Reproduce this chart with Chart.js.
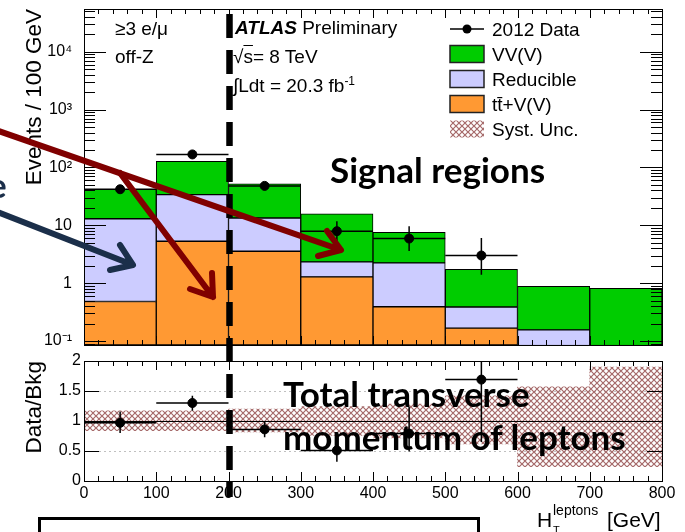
<!DOCTYPE html>
<html>
<head>
<meta charset="utf-8">
<script src="https://cdn.jsdelivr.net/npm/chart.js@4"></script>
<style>
  html, body { margin: 0; padding: 0; background: #fff; }
  body { width: 685px; height: 532px; position: relative; overflow: hidden; font-family: "Liberation Sans", Arial, sans-serif; }
  canvas { position: absolute; left: 0; }
  #eventsChart { top: 0; }
  #ratioChart { top: 350px; }
  .t { position: absolute; white-space: nowrap; line-height: 1; color: #000; font-size: 19px; }
  .big { font-family: Lato, "Open Sans", sans-serif; font-weight: 700; font-size: 35px; }
  svg { position: absolute; left: 0; top: 0; }
</style>
</head>
<body>
<canvas id="eventsChart" width="685" height="365"></canvas>
<canvas id="ratioChart" width="685" height="182"></canvas>

<div class="t" style="left:115px; top:19px">≥3 e/μ</div>
<div class="t" style="left:115px; top:47px">off-Z</div>
<div class="t" style="left:235px; top:18px"><b><i>ATLAS</i></b> Preliminary</div>
<div class="t" style="left:233px; top:47px">√<span style="text-decoration:overline">s</span>= 8 TeV</div>
<div class="t" style="left:233px; top:75px">∫Ldt = 20.3 fb<sup style="font-size:12px">-1</sup></div>

<div class="t big" style="left:330px; top:152px">Signal regions</div>
<div class="t big" style="left:283px; top:376px">Total transverse</div>
<div class="t big" style="left:283px; top:419px">momentum of leptons</div>
<div class="t big" style="left:-12px; top:167px; color:#1b2f4a">e</div>

<div class="t" style="left:537px; top:509px; font-size:21px">H</div>
<div class="t" style="left:553px; top:503px; font-size:14px">leptons</div>
<div class="t" style="left:553px; top:525px; font-size:11px">T</div>
<div class="t" style="left:607px; top:509px; font-size:21px">[GeV]</div>

<div style="position:absolute; left:38px; top:517px; width:436px; height:40px; border:3px solid #000"></div>

<svg width="685" height="532">
  <g fill="none" stroke-linecap="round" stroke-linejoin="round" stroke-width="6">
    <g stroke="#800000">
      <path d="M-10 128 L341 250 M327 231 L341 250 L318 256"/>
      <path d="M120 173 L213 297 M212 273 L213 297 L190 289"/>
    </g>
    <path stroke="#1b2f4a" d="M-10 209 L133 265 M120 245 L133 265 L110 270"/>
  </g>
</svg>

<script>
// bins of H_T(leptons), GeV
const binCenters = [50, 150, 250, 350, 450, 550, 650, 750];
const binHalfWidth = 50;

// stacked expectations (events / 100 GeV)
const ttvEvents = [0.48, 5.3, 3.56, 1.28, 0.39, 0.166, 0.03, 0.02];
const reducibleEvents = [12.5, 28.5, 9.8, 1.05, 1.85, 0.22, 0.125, 0.04];
const vvEvents = [28.9, 94, 38.6, 13.4, 5.3, 1.35, 0.72, 0.75];

// 2012 data
const dataEvents = [42, 168, 48, 7.9, 5.9, 3.0, null, null];
const dataEventsLow = [36, 155, 41, 5.1, 3.6, 1.4, null, null];
const dataEventsHigh = [49, 181, 55, 11.7, 9.6, 6.0, null, null];

// data / background
const ratio = [0.97, 1.30, 0.86, 0.51, 0.79, 1.69, null, null];
const ratioLow = [0.80, 1.17, 0.73, 0.32, 0.49, 0.65, null, null];
const ratioHigh = [1.16, 1.42, 0.99, 0.68, 1.24, 2.3, null, null];
const systLow = [0.84, 0.84, 0.82, 0.76, 0.72, 0.62, 0.24, 0.24];
const systHigh = [1.17, 1.17, 1.2, 1.24, 1.28, 1.42, 1.57, 1.9];

const eventTickValues = [0.1, 1, 10, 100, 1000, 10000];
const eventTickLabels = ['10⁻¹', '1', '10', '10²', '10³', '10⁴'];
const ratioTickValues = [0, 0.5, 1, 1.5, 2];
const htTickValues = [0, 100, 200, 300, 400, 500, 600, 700, 800];
const cutValue = 200;

const legendLabels = ['2012 Data', 'VV(V)', 'Reducible', 'tt̄+V(V)', 'Syst. Unc.'];

const green = '#00cc00';
const lavender = '#ccccff';
const orange = '#ff9933';

Chart.defaults.font.family = "'Liberation Sans', Arial, sans-serif";
Chart.defaults.color = '#000';

function hatch(color) {
    const c = document.createElement('canvas');
    c.width = 6;
    c.height = 6;
    const g = c.getContext('2d');
    g.strokeStyle = color;
    g.lineWidth = 1.2;
    g.beginPath();
    g.moveTo(0, 0); g.lineTo(6, 6);
    g.moveTo(6, 0); g.lineTo(0, 6);
    g.stroke();
    return g.createPattern(c, 'repeat');
}
const systPattern = hatch('rgb(165,105,105)');

function logMinorTicks(min, max) {
    const out = [];
    for (let d = 0.01; d <= 1e5; d *= 10) {
        for (let m = 2; m <= 9; m++) {
            const v = d * m;
            if (v > min && v < max) out.push(v);
        }
    }
    return out;
}

// ROOT-like frame: box plus inward ticks on all four sides
const rootFrame = {
    id: 'rootFrame',
    afterDraw(chart, args, o) {
        const { ctx, chartArea: a, scales: { x, y } } = chart;
        ctx.save();
        ctx.strokeStyle = '#000';
        ctx.lineWidth = 1;
        ctx.beginPath();
        for (let v = x.min; v <= x.max; v += o.xMinorStep) {
            const px = Math.round(x.getPixelForValue(v)) + 0.5;
            const len = v % 100 === 0 ? o.xMajor : o.xMinor;
            ctx.moveTo(px, a.bottom); ctx.lineTo(px, a.bottom - len);
            ctx.moveTo(px, a.top); ctx.lineTo(px, a.top + len);
        }
        const yTick = (v, len) => {
            const py = Math.round(y.getPixelForValue(v)) + 0.5;
            ctx.moveTo(a.left, py); ctx.lineTo(a.left + len, py);
            ctx.moveTo(a.right, py); ctx.lineTo(a.right - len, py);
        };
        o.yMajorValues.forEach(v => yTick(v, o.yMajor));
        o.yMinorValues.forEach(v => yTick(v, o.yMinor));
        ctx.stroke();
        ctx.strokeRect(Math.round(a.left) + 0.5, Math.round(a.top) + 0.5,
            Math.round(a.right - a.left), Math.round(a.bottom - a.top));
        ctx.restore();
    }
};

// horizontal + vertical error bars for the data points
const errorBars = {
    id: 'errorBars',
    afterDatasetsDraw(chart, args, o) {
        const { ctx, chartArea: a, scales: { x, y } } = chart;
        ctx.save();
        ctx.beginPath();
        ctx.rect(a.left, a.top, a.right - a.left, a.bottom - a.top);
        ctx.clip();
        ctx.strokeStyle = '#000';
        ctx.lineWidth = 1.5;
        ctx.beginPath();
        binCenters.forEach((c, i) => {
            if (o.values[i] == null) return;
            const px = x.getPixelForValue(c);
            const py = y.getPixelForValue(o.values[i]);
            ctx.moveTo(x.getPixelForValue(c - binHalfWidth), py);
            ctx.lineTo(x.getPixelForValue(c + binHalfWidth), py);
            ctx.moveTo(px, y.getPixelForValue(o.low[i]));
            ctx.lineTo(px, y.getPixelForValue(o.high[i]));
        });
        ctx.stroke();
        ctx.restore();
    }
};

// thick dashed line at the H_T cut, drawn through both pads
const cutLine = {
    id: 'cutLine',
    afterDraw(chart, args, o) {
        const { ctx, scales: { x } } = chart;
        const px = x.getPixelForValue(cutValue) + 1;
        ctx.save();
        ctx.strokeStyle = '#000';
        ctx.lineWidth = 6.5;
        ctx.setLineDash([24, 12]);
        ctx.lineDashOffset = o.dashOffset;
        ctx.beginPath();
        ctx.moveTo(px, o.from);
        ctx.lineTo(px, o.to);
        ctx.stroke();
        ctx.restore();
    }
};

// reference line at ratio = 1, just above the syst band
const unityLine = {
    id: 'unityLine',
    afterDatasetDraw(chart, args) {
        if (args.index !== 1) return;
        const { ctx, chartArea: a, scales: { y } } = chart;
        const py = Math.round(y.getPixelForValue(1)) + 0.5;
        ctx.save();
        ctx.strokeStyle = '#000';
        ctx.lineWidth = 1.2;
        ctx.beginPath();
        ctx.moveTo(a.left, py);
        ctx.lineTo(a.right, py);
        ctx.stroke();
        ctx.restore();
    }
};

const legendBox = {
    id: 'legendBox',
    afterDraw(chart, args, o) {
        const ctx = chart.ctx;
        ctx.save();
        ctx.font = "19px 'Liberation Sans', Arial, sans-serif";
        ctx.fillStyle = '#000';
        ctx.textBaseline = 'alphabetic';
        o.items.forEach((it, i) => {
            const cy = o.y + i * o.step;
            if (it.marker) {
                ctx.strokeStyle = '#000';
                ctx.lineWidth = 1.5;
                ctx.beginPath();
                ctx.moveTo(o.x, cy); ctx.lineTo(o.x + o.w, cy);
                ctx.stroke();
                ctx.beginPath();
                ctx.arc(o.x + o.w / 2, cy, 4.5, 0, Math.PI * 2);
                ctx.fill();
            } else {
                ctx.fillStyle = it.fill;
                ctx.fillRect(o.x, cy - o.h / 2, o.w, o.h);
                if (it.border) {
                    ctx.strokeStyle = '#222';
                    ctx.lineWidth = 1.5;
                    ctx.strokeRect(o.x, cy - o.h / 2, o.w, o.h);
                }
            }
            ctx.fillStyle = '#000';
            ctx.fillText(it.label, o.x + o.w + 8, cy + 7);
        });
        ctx.restore();
    }
};

const fixY = s => { s.width = 84; s.paddingTop = 0; s.paddingBottom = 0; };

const barSet = (label, values, color) => ({
    type: 'bar',
    label: label,
    data: binCenters.map((c, i) => ({ x: c, y: values[i] })),
    backgroundColor: color,
    borderColor: '#000',
    borderWidth: 1,
    borderSkipped: false,
    barPercentage: 1,
    categoryPercentage: 1
});

new Chart(document.getElementById('eventsChart'), {
    type: 'bar',
    data: {
        datasets: [
            {
                type: 'line',
                label: legendLabels[0],
                data: binCenters.map((c, i) => ({ x: c, y: dataEvents[i] })),
                showLine: false,
                pointRadius: 4.5,
                pointBackgroundColor: '#000',
                pointBorderColor: '#000'
            },
            barSet(legendLabels[3], ttvEvents, orange),
            barSet(legendLabels[2], reducibleEvents, lavender),
            barSet(legendLabels[1], vvEvents, green)
        ]
    },
    options: {
        responsive: false,
        animation: false,
        layout: { padding: { top: 9, right: 23, bottom: 20, left: 0 } },
        scales: {
            x: {
                type: 'linear', display: false, stacked: true, offset: false, min: 0, max: 800,
                grid: { offset: false },
                ticks: { stepSize: 100 },
                afterBuildTicks: s => { s.ticks = htTickValues.map(v => ({ value: v })); }
            },
            y: {
                type: 'logarithmic', stacked: true, min: 0.085, max: 55000,
                grid: { display: false, drawTicks: false },
                border: { display: false },
                ticks: {
                    autoSkip: false, padding: 12, font: { size: 16 },
                    callback: v => eventTickLabels[eventTickValues.indexOf(v)]
                },
                afterBuildTicks: s => { s.ticks = eventTickValues.map(v => ({ value: v })); },
                afterFit: fixY,
                title: {
                    display: true, text: 'Events / 100 GeV', align: 'end',
                    font: { size: 22.5 }, padding: { top: 21, bottom: 0 }
                }
            }
        },
        plugins: {
            legend: { display: false },
            tooltip: { enabled: false },
            rootFrame: {
                xMinorStep: 20, xMajor: 9, xMinor: 5,
                yMajorValues: eventTickValues, yMinorValues: logMinorTicks(0.085, 55000),
                yMajor: 22, yMinor: 11
            },
            errorBars: { values: dataEvents, low: dataEventsLow, high: dataEventsHigh },
            cutLine: { from: 14, to: 350, dashOffset: 0 },
            legendBox: {
                x: 450, y: 29, step: 25, w: 34, h: 17,
                items: [
                    { label: legendLabels[0], marker: true },
                    { label: legendLabels[1], fill: green, border: true },
                    { label: legendLabels[2], fill: lavender, border: true },
                    { label: legendLabels[3], fill: orange, border: true },
                    { label: legendLabels[4], fill: systPattern, border: false }
                ]
            }
        }
    },
    plugins: [rootFrame, errorBars, cutLine, legendBox]
});

new Chart(document.getElementById('ratioChart'), {
    type: 'bar',
    data: {
        datasets: [
            {
                type: 'line',
                label: 'Data/Bkg',
                data: binCenters.map((c, i) => ({ x: c, y: ratio[i] })),
                showLine: false,
                pointRadius: 4.5,
                pointBackgroundColor: '#000',
                pointBorderColor: '#000'
            },
            {
                type: 'bar',
                label: legendLabels[4],
                data: binCenters.map((c, i) => ({ x: c, y: [systLow[i], systHigh[i]] })),
                backgroundColor: systPattern,
                borderWidth: 0,
                barPercentage: 1,
                categoryPercentage: 1
            }
        ]
    },
    options: {
        responsive: false,
        animation: false,
        layout: { padding: { top: 11, right: 23, bottom: 0, left: 0 } },
        scales: {
            x: {
                type: 'linear', min: 0, max: 800, offset: false,
                grid: { display: false, drawTicks: false, offset: false },
                border: { display: false },
                ticks: { stepSize: 100, autoSkip: false, maxRotation: 0, padding: 3, font: { size: 16 } },
                afterBuildTicks: s => { s.ticks = htTickValues.map(v => ({ value: v })); },
                afterFit: s => { s.height = 51; s.paddingLeft = 0; s.paddingRight = 0; }
            },
            y: {
                type: 'linear', min: 0, max: 2,
                grid: {
                    drawTicks: false,
                    color: c => (c.tick && (c.tick.value === 0.5 || c.tick.value === 1.5)) ? '#c0c0c0' : 'rgba(0,0,0,0)',
                    lineWidth: 1
                },
                border: { display: false, dash: [2, 3] },
                ticks: { autoSkip: false, padding: 3, font: { size: 16 }, callback: v => String(v) },
                afterBuildTicks: s => { s.ticks = ratioTickValues.map(v => ({ value: v })); },
                afterFit: fixY,
                title: {
                    display: true, text: 'Data/Bkg', align: 'end',
                    font: { size: 22.5 }, padding: { top: 21, bottom: 0 }
                }
            }
        },
        plugins: {
            legend: { display: false },
            tooltip: { enabled: false },
            rootFrame: {
                xMinorStep: 20, xMajor: 9, xMinor: 5,
                yMajorValues: ratioTickValues, yMinorValues: [],
                yMajor: 15, yMinor: 8
            },
            errorBars: { values: ratio, low: ratioLow, high: ratioHigh },
            cutLine: { from: 0, to: 147, dashOffset: 336 }
        }
    },
    plugins: [unityLine, rootFrame, errorBars, cutLine]
});
</script>
</body>
</html>
